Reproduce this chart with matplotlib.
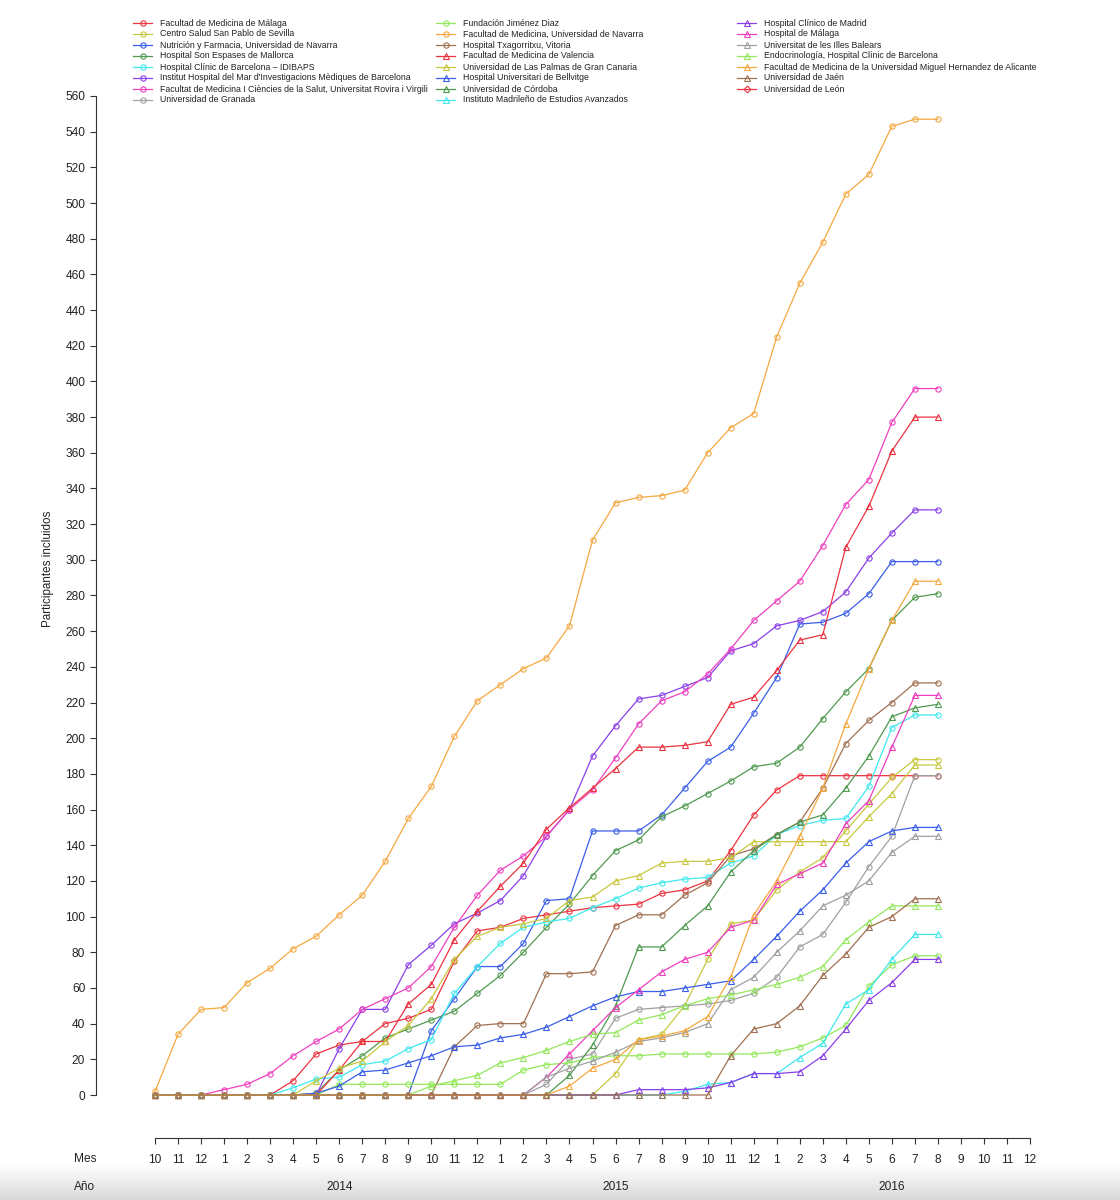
import numpy as np
import matplotlib
matplotlib.use('Agg')
import matplotlib.pyplot as plt
from matplotlib.lines import Line2D

plt.rcParams['font.family'] = ['Liberation Sans', 'DejaVu Sans']

# ── Axis labels ────────────────────────────────────────────
MES = [10, 11, 12,
       1, 2, 3, 4, 5, 6, 7, 8, 9, 10, 11, 12,
       1, 2, 3, 4, 5, 6, 7, 8, 9, 10, 11, 12,
       1, 2, 3, 4, 5, 6, 7, 8, 9, 10, 11, 12]
FIRST_YEAR = 2013
YEAR_LABELS = [2014, 2015, 2016]

# ── Cumulative participants per centre (Oct 2013 .. Aug 2016) ──
fac_malaga = [0, 0, 0, 0, 0, 0, 8, 23, 28, 30, 40, 43, 48, 75, 92,
              94, 99, 101, 103, 105, 106, 107, 113, 115, 120, 137, 157,
              171, 179, 179, 179, 179, 179, 179, 179]
sevilla = [0, 0, 0, 0, 0, 0, 0, 0, 0, 0, 0, 0, 0, 0, 0,
           0, 0, 0, 0, 0, 12, 31, 34, 50, 76, 96, 98,
           115, 125, 133, 148, 163, 178, 188, 188]
nutr_navarra = [0, 0, 0, 0, 0, 0, 0, 0, 0, 0, 0, 0, 36, 54, 72,
                72, 85, 109, 110, 148, 148, 148, 157, 172, 187, 195, 214,
                234, 264, 265, 270, 281, 299, 299, 299]
son_espases = [0, 0, 0, 0, 0, 0, 0, 1, 14, 22, 32, 37, 42, 47, 57,
               67, 80, 94, 107, 123, 137, 143, 156, 162, 169, 176, 184,
               186, 195, 211, 226, 239, 266, 279, 281]
clinic_idibaps = [0, 0, 0, 0, 0, 0, 4, 9, 10, 17, 19, 26, 31, 57, 72,
                  85, 94, 97, 99, 105, 110, 116, 119, 121, 122, 130, 134,
                  146, 151, 154, 155, 173, 206, 213, 213]
hosp_mar = [0, 0, 0, 0, 0, 0, 0, 0, 26, 48, 48, 73, 84, 96, 102,
            109, 123, 145, 160, 190, 207, 222, 224, 229, 234, 249, 253,
            263, 266, 271, 282, 301, 315, 328, 328]
rovira_virgili = [0, 0, 0, 3, 6, 12, 22, 30, 37, 48, 54, 60, 72, 94, 112,
                  126, 134, 145, 160, 171, 189, 208, 221, 226, 236, 250, 266,
                  277, 288, 308, 331, 345, 377, 396, 396]
granada = [0, 0, 0, 0, 0, 0, 0, 0, 0, 0, 0, 0, 0, 0, 0,
           0, 0, 6, 20, 23, 43, 48, 49, 50, 51, 53, 57,
           66, 83, 90, 108, 128, 145, 179, 179]
jimenez_diaz = [0, 0, 0, 0, 0, 0, 0, 0, 6, 6, 6, 6, 6, 6, 6,
                6, 14, 17, 18, 21, 22, 22, 23, 23, 23, 23, 23,
                24, 27, 32, 39, 61, 73, 78, 78]
med_navarra = [2, 34, 48, 49, 63, 71, 82, 89, 101, 112, 131, 155, 173, 201, 221,
               230, 239, 245, 263, 311, 332, 335, 336, 339, 360, 374, 382,
               425, 455, 478, 505, 516, 543, 547, 547]
txagorritxu = [0, 0, 0, 0, 0, 0, 0, 0, 0, 0, 0, 0, 0, 27, 39,
               40, 40, 68, 68, 69, 95, 101, 101, 112, 119, 134, 138,
               146, 153, 172, 197, 210, 220, 231, 231]
valencia = [0, 0, 0, 0, 0, 0, 0, 0, 14, 30, 30, 51, 62, 87, 103,
            117, 130, 149, 161, 172, 183, 195, 195, 196, 198, 219, 223,
            238, 255, 258, 307, 330, 361, 380, 380]
las_palmas = [0, 0, 0, 0, 0, 0, 0, 8, 15, 19, 30, 39, 54, 76, 89,
              94, 96, 99, 109, 111, 120, 123, 130, 131, 131, 133, 142,
              142, 142, 142, 142, 156, 169, 185, 185]
bellvitge = [0, 0, 0, 0, 0, 0, 0, 1, 5, 13, 14, 18, 22, 27, 28,
             32, 34, 38, 44, 50, 55, 58, 58, 60, 62, 64, 76,
             89, 103, 115, 130, 142, 148, 150, 150]
cordoba = [0, 0, 0, 0, 0, 0, 0, 0, 0, 0, 0, 0, 0, 0, 0,
           0, 0, 0, 11, 28, 50, 83, 83, 95, 106, 125, 137,
           146, 153, 157, 172, 190, 212, 217, 219]
imdea = [0, 0, 0, 0, 0, 0, 0, 0, 0, 0, 0, 0, 0, 0, 0,
         0, 0, 0, 0, 0, 0, 0, 0, 2, 6, 7, 12,
         12, 21, 29, 51, 59, 76, 90, 90]
clinico_madrid = [0, 0, 0, 0, 0, 0, 0, 0, 0, 0, 0, 0, 0, 0, 0,
                  0, 0, 0, 0, 0, 0, 3, 3, 3, 4, 7, 12,
                  12, 13, 22, 37, 53, 63, 76, 76]
hosp_malaga = [0, 0, 0, 0, 0, 0, 0, 0, 0, 0, 0, 0, 0, 0, 0,
               0, 0, 10, 23, 36, 49, 59, 69, 76, 80, 94, 98,
               118, 124, 130, 152, 165, 195, 224, 224]
illes_balears = [0, 0, 0, 0, 0, 0, 0, 0, 0, 0, 0, 0, 0, 0, 0,
                 0, 0, 10, 15, 19, 24, 30, 32, 35, 40, 59, 66,
                 80, 92, 106, 112, 120, 136, 145, 145]
endocrino = [0, 0, 0, 0, 0, 0, 0, 0, 0, 0, 0, 0, 5, 8, 11,
             18, 21, 25, 30, 34, 35, 42, 45, 50, 54, 56, 59,
             62, 66, 72, 87, 97, 106, 106, 106]
alicante = [0, 0, 0, 0, 0, 0, 0, 0, 0, 0, 0, 0, 0, 0, 0,
            0, 0, 0, 5, 15, 20, 31, 33, 36, 44, 66, 101,
            120, 145, 172, 208, 239, 266, 288, 288]
jaen = [0, 0, 0, 0, 0, 0, 0, 0, 0, 0, 0, 0, 0, 0, 0,
        0, 0, 0, 0, 0, 0, 0, 0, 0, 0, 22, 37,
        40, 50, 67, 79, 94, 100, 110, 110]
leon = []

NAMES = [
    "Facultad de Medicina de Málaga",
    "Centro Salud San Pablo de Sevilla",
    "Nutrición y Farmacia, Universidad de Navarra",
    "Hospital Son Espases de Mallorca",
    "Hospital Clínic de Barcelona – IDIBAPS",
    "Institut Hospital del Mar d'Investigacions Mèdiques de Barcelona",
    "Facultat de Medicina I Ciències de la Salut, Universitat Rovira i Virgili",
    "Universidad de Granada",
    "Fundación Jiménez Diaz",
    "Facultad de Medicina, Universidad de Navarra",
    "Hospital Txagorritxu, Vitoria",
    "Facultad de Medicina de Valencia",
    "Universidad de Las Palmas de Gran Canaria",
    "Hospital Universitari de Bellvitge",
    "Universidad de Córdoba",
    "Instituto Madrileño de Estudios Avanzados",
    "Hospital Clínico de Madrid",
    "Hospital de Málaga",
    "Universitat de les Illes Balears",
    "Endocrinología, Hospital Clínic de Barcelona",
    "Facultad de Medicina de la Universidad Miguel Hernandez de Alicante",
    "Universidad de Jaén",
    "Universidad de León",
]
SERIES = [fac_malaga, sevilla, nutr_navarra, son_espases, clinic_idibaps,
          hosp_mar, rovira_virgili, granada, jimenez_diaz, med_navarra,
          txagorritxu, valencia, las_palmas, bellvitge, cordoba, imdea,
          clinico_madrid, hosp_malaga, illes_balears, endocrino, alicante,
          jaen, leon]

# ── Style ──────────────────────────────────────────────────
PALETTE = ['#ec3340', '#c8c840', '#3a5ee8', '#4f9a4f', '#40e8ee', '#8a40e8',
           '#ee40c0', '#a0a0a0', '#92e85a', '#f5a840', '#a07050']
MARKERS = ['o', '^', 'D']
MSIZE = {'o': 3.8, '^': 4.2, 'D': 3.4}
TXT = '#222222'

fig = plt.figure(figsize=(11.2, 12), dpi=100, facecolor='white')

# soft grey band at the very bottom of the window
gax = fig.add_axes([0, 0, 1, 36 / 1200], zorder=-5)
grad = np.linspace(1.0, 0.85, 64).reshape(-1, 1)
gax.imshow(grad, cmap='gray', vmin=0, vmax=1, aspect='auto',
           extent=(0, 1, 0, 1))
gax.set_axis_off()

# main plot area (pixel geometry of the reference)
W, H = 1120, 1200
left_px, right_px, top_px, bot_px = 96, 1040, 90, 1138
x0_px, dx_px = 155, (1030 - 155) / 38
y0_px, dy_px = 1095, (1095 - 96) / 560

ax = fig.add_axes([left_px / W, 1 - bot_px / H,
                   (right_px - left_px) / W, (bot_px - top_px) / H])
ax.set_facecolor('none')
ax.set_xlim(-(x0_px - left_px) / dx_px, (right_px - x0_px) / dx_px)
ax.set_ylim(-(bot_px - y0_px) / dy_px, (y0_px - top_px) / dy_px)

for k, (name, vals) in enumerate(zip(NAMES, SERIES)):
    color = PALETTE[k % len(PALETTE)]
    mk = MARKERS[k // len(PALETTE)]
    ax.plot(np.arange(len(vals)), vals, color=color, lw=0.9,
            marker=mk, ms=MSIZE[mk], mfc='none', mec=color, mew=0.8)

for s in ['top', 'right']:
    ax.spines[s].set_visible(False)
ax.spines['left'].set_bounds(0, 560)
ax.spines['bottom'].set_bounds(0, len(MES) - 1)
for s in ['left', 'bottom']:
    ax.spines[s].set_color('#333333')
    ax.spines[s].set_linewidth(0.8)

ax.set_yticks(np.arange(0, 561, 20))
ax.set_xticks(np.arange(len(MES)))
ax.set_xticklabels([str(m) for m in MES])
ax.tick_params(axis='both', direction='out', length=4.3, width=0.8,
               color='#333333', labelcolor=TXT, labelsize=8.6)
ax.tick_params(axis='y', pad=3.5)
ax.tick_params(axis='x', pad=7)

# year row
years = []
yr = FIRST_YEAR
for i, m in enumerate(MES):
    if i > 0 and m == 1:
        yr += 1
    years.append(yr)
for y in YEAR_LABELS:
    idx = [i for i in range(len(MES)) if years[i] == y and MES[i] == 6][0]
    ax.text(idx, -(1187 - bot_px) / (bot_px - top_px), str(y),
            transform=ax.get_xaxis_transform(), ha='center', va='center',
            fontsize=8.6, color=TXT)

fig.text(85 / W, 1 - 1159 / H, 'Mes', ha='center', va='center',
         fontsize=8.6, color=TXT)
fig.text(85 / W, 1 - 1187 / H, 'Año', ha='center', va='center',
         fontsize=8.6, color=TXT)
fig.text(48 / W, 1 - 569 / H, 'Participantes incluidos', rotation=90,
         ha='center', va='center', fontsize=8.4, color=TXT)

# ── Legend: 3 equal-width columns, filled column by column ──
lax = fig.add_axes([0, 0, 1, 1], zorder=5)
lax.set_xlim(0, W)
lax.set_ylim(H, 0)
lax.set_axis_off()
col_x = [133, 436, 737]
row_y0, row_dy, nrow = 23, 11.0, 8
for k, name in enumerate(NAMES):
    c, r = divmod(k, nrow)
    xs, ys = col_x[c], row_y0 + r * row_dy
    color = PALETTE[k % len(PALETTE)]
    mk = MARKERS[k // len(PALETTE)]
    lax.add_line(Line2D([xs, xs + 19], [ys, ys], color=color, lw=0.9))
    lax.add_line(Line2D([xs + 9.5], [ys], marker=mk, ms=MSIZE[mk],
                        mfc='none', mec=color, mew=0.8, color=color))
    lax.text(xs + 27, ys, name, ha='left', va='center', fontsize=6.35,
             color=TXT)

fig.savefig('out.png', dpi=100, facecolor='white')
